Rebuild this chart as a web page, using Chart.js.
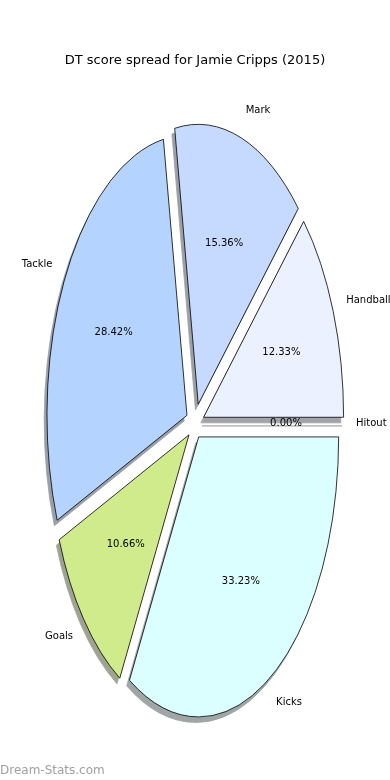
<!DOCTYPE html>
<html><head><meta charset="utf-8">
<script src="https://cdn.jsdelivr.net/npm/chart.js@4.4.0/dist/chart.umd.min.js"></script>
<style>html,body{margin:0;padding:0;background:#fff;} #wrap{width:390px;height:780px;position:relative} canvas{display:block}</style>
</head><body>
<div id="wrap"><canvas id="c" width="390" height="780"></canvas></div>
<script>
// ---- data (clockwise on screen, starting at 3 o'clock) ----
const categories = ['Hitout', 'Kicks', 'Goals', 'Tackle', 'Mark', 'Handball'];
const percentages = [0.00, 33.23, 10.66, 28.42, 15.36, 12.33];
const titleText = 'DT score spread for Jamie Cripps (2015)';
const watermarkText = 'Dream-Stats.com';

// ---- styles ----
const sliceColors = ['#f0f4ff', '#dbffff', '#d0eb8b', '#b4d4ff', '#c6d9ff', '#ebf1ff'];
const explodePx = [7, 7.3, 8, 9.2, 10.5, 9.3];
const Y_STRETCH = 2.0;
const SHADOW_DX = -2.8, SHADOW_DY = 5.6;

function shade(hex) {
  const n = parseInt(hex.slice(1), 16);
  const f = v => Math.round(127.5 + 0.15 * v);
  return `rgb(${f(n >> 16 & 255)},${f(n >> 8 & 255)},${f(n & 255)})`;
}

const ellipsePie = {
  id: 'ellipsePie',
  beforeDatasetsDraw(chart) {
    const ctx = chart.ctx;
    const arcs = chart.getDatasetMeta(0).data;
    const cx = arcs[0].x, cy = arcs[0].y;
    const stretched = () => { ctx.translate(cx, cy); ctx.scale(1, Y_STRETCH); ctx.translate(-cx, -cy); };
    const wedgePath = (a, d, ox, oy) => {
      const mid = (a.startAngle + a.endAngle) / 2;
      const x = a.x + Math.cos(mid) * d + ox, y = a.y + Math.sin(mid) * d + oy;
      ctx.beginPath();
      ctx.moveTo(x, y);
      if (a.endAngle > a.startAngle) {
        ctx.arc(x, y, a.outerRadius, a.startAngle, a.endAngle);
      } else {
        ctx.lineTo(x + a.outerRadius * Math.cos(a.startAngle), y + a.outerRadius * Math.sin(a.startAngle));
      }
      ctx.closePath();
    };
    ctx.save();
    // shadows, all below wedges
    arcs.forEach((a, i) => {
      if (a.endAngle <= a.startAngle) return;
      ctx.save(); stretched(); wedgePath(a, explodePx[i], SHADOW_DX, SHADOW_DY / Y_STRETCH); ctx.restore();
      const col = shade(sliceColors[i]);
      ctx.fillStyle = col; ctx.fill();
      ctx.strokeStyle = col; ctx.lineWidth = 0.8; ctx.stroke();
    });
    // wedges
    arcs.forEach((a, i) => {
      const mid = (a.startAngle + a.endAngle) / 2, d = explodePx[i];
      const empty = a.endAngle <= a.startAngle;
      ctx.save(); stretched(); ctx.translate(Math.cos(mid) * d, Math.sin(mid) * d); a.draw(ctx); ctx.restore();
      ctx.save(); stretched(); wedgePath(a, d, 0, empty ? 0.8 : 0); ctx.restore();
      ctx.strokeStyle = empty ? '#b4b4b4' : '#000';
      ctx.lineWidth = empty ? 1 : 0.8;
      ctx.stroke();
    });
    ctx.restore();
    return false;
  },
  afterDraw(chart) {
    const ctx = chart.ctx;
    const arcs = chart.getDatasetMeta(0).data;
    ctx.save();
    ctx.fillStyle = '#000';
    ctx.font = '10px "DejaVu Sans"';
    ctx.textBaseline = 'middle';
    arcs.forEach((a, i) => {
      const mid = (a.startAngle + a.endAngle) / 2, d = explodePx[i], R = a.outerRadius;
      const c = Math.cos(mid), s = Math.sin(mid);
      ctx.textAlign = c > 0 ? 'left' : 'right';
      ctx.fillText(categories[i], a.x + (d + 1.1 * R) * c, a.y + Y_STRETCH * (d + 1.1 * R) * s - 1);
      ctx.textAlign = 'center';
      ctx.fillText(percentages[i].toFixed(2) + '%', a.x + (d + 0.6 * R) * c, a.y + Y_STRETCH * (d + 0.6 * R) * s - 1);
    });
    ctx.fillStyle = '#a0a0a0';
    ctx.font = '12px "DejaVu Sans"';
    ctx.textAlign = 'left';
    ctx.fillText(watermarkText, 0, 771);
    ctx.restore();
  }
};

new Chart(document.getElementById('c'), {
  type: 'pie',
  data: {
    labels: categories,
    datasets: [{
      data: percentages,
      backgroundColor: sliceColors,
      borderWidth: 0,
      offset: 0,
      hoverOffset: 0
    }]
  },
  options: {
    responsive: false,
    animation: false,
    events: [],
    devicePixelRatio: 1,
    rotation: 90,
    radius: 140,
    layout: { padding: { top: 0, bottom: 0, left: 0, right: 0 } },
    plugins: {
      legend: { display: false },
      tooltip: { enabled: false },
      title: {
        display: true,
        text: titleText,
        color: '#000',
        font: { family: '"DejaVu Sans"', size: 13, weight: 'normal', lineHeight: 1.2 },
        padding: { top: 53, bottom: 0 }
      }
    }
  },
  plugins: [ellipsePie]
});
</script>
</body></html>
